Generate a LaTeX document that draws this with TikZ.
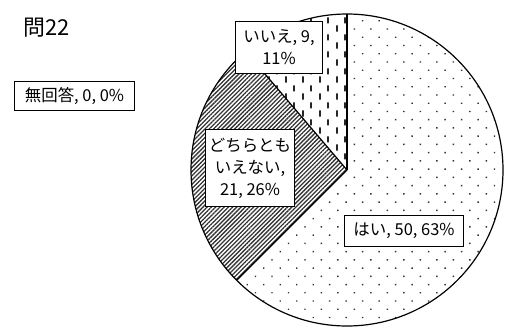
\documentclass[tikz,border=0pt]{standalone}
\usepackage{fontspec}
\setmainfont{Noto Sans CJK JP}
\usetikzlibrary{patterns,patterns.meta}

% vertical dashes, every other column shifted by half a period
\pgfdeclarepatternformonly{vdashes}{\pgfqpoint{0pt}{0pt}}{\pgfqpoint{16.6pt}{16.6pt}}{\pgfqpoint{16.6pt}{16.6pt}}{
  \pgfsetlinewidth{1.8pt}
  \pgfpathmoveto{\pgfqpoint{4.1pt}{1.5pt}}\pgfpathlineto{\pgfqpoint{4.1pt}{7.8pt}}
  \pgfpathmoveto{\pgfqpoint{12.4pt}{9.8pt}}\pgfpathlineto{\pgfqpoint{12.4pt}{16.1pt}}
  \pgfusepath{stroke}}

\begin{document}
\begin{tikzpicture}[x=1bp,y=1bp,
    lbl/.style={draw=black,line width=0.9pt,fill=white,align=center,inner sep=2pt,
      font=\fontsize{16.5}{22}\selectfont},
    edge/.style={line width=1.2pt,black}]
    \useasboundingbox (0,0) rectangle (518,334);

    \begin{scope}[shift={(347,164)}]
    \fill[pattern={Dots[radius=1pt,distance=11.7pt,angle=45]},pattern color=black!80]
        (0,0) -- (90:156) arc[start angle=90,end angle=-135,radius=156] -- cycle; % はい
    \fill[pattern={Lines[angle=45,distance=3pt,line width=1.3pt]},pattern color=black!80]
        (0,0) -- (225:156) arc[start angle=225,end angle=130.5,radius=156] -- cycle; % どちらとも
    \fill[pattern=vdashes,pattern color=black!85]
        (0,0) -- (130.5:156) arc[start angle=130.5,end angle=90,radius=156] -- cycle; % いいえ
    \draw[edge] (0,0) circle[radius=156];
    \draw[edge] (0,0) -- (90:156);
    \draw[edge] (0,0) -- (225:156);
    \draw[edge] (0,0) -- (130.5:156);
    \end{scope}

    \node[font=\fontsize{22}{24}\selectfont] (title) at (47,306) {問22};
    \node[lbl,minimum width=121,minimum height=30] (noans) at (74.5,238) {無回答, 0, 0\%};
    \node[lbl,minimum width=88,minimum height=53] (no) at (279,286.5) {いいえ, 9,\\11\%};
    \node[lbl,minimum width=90,minimum height=78] (neither) at (250,166) {どちらとも\\いえない,\\21, 26\%};
    \node[lbl,minimum width=120,minimum height=32] (yes) at (404,103) {はい, 50, 63\%};
\end{tikzpicture}
\end{document}
